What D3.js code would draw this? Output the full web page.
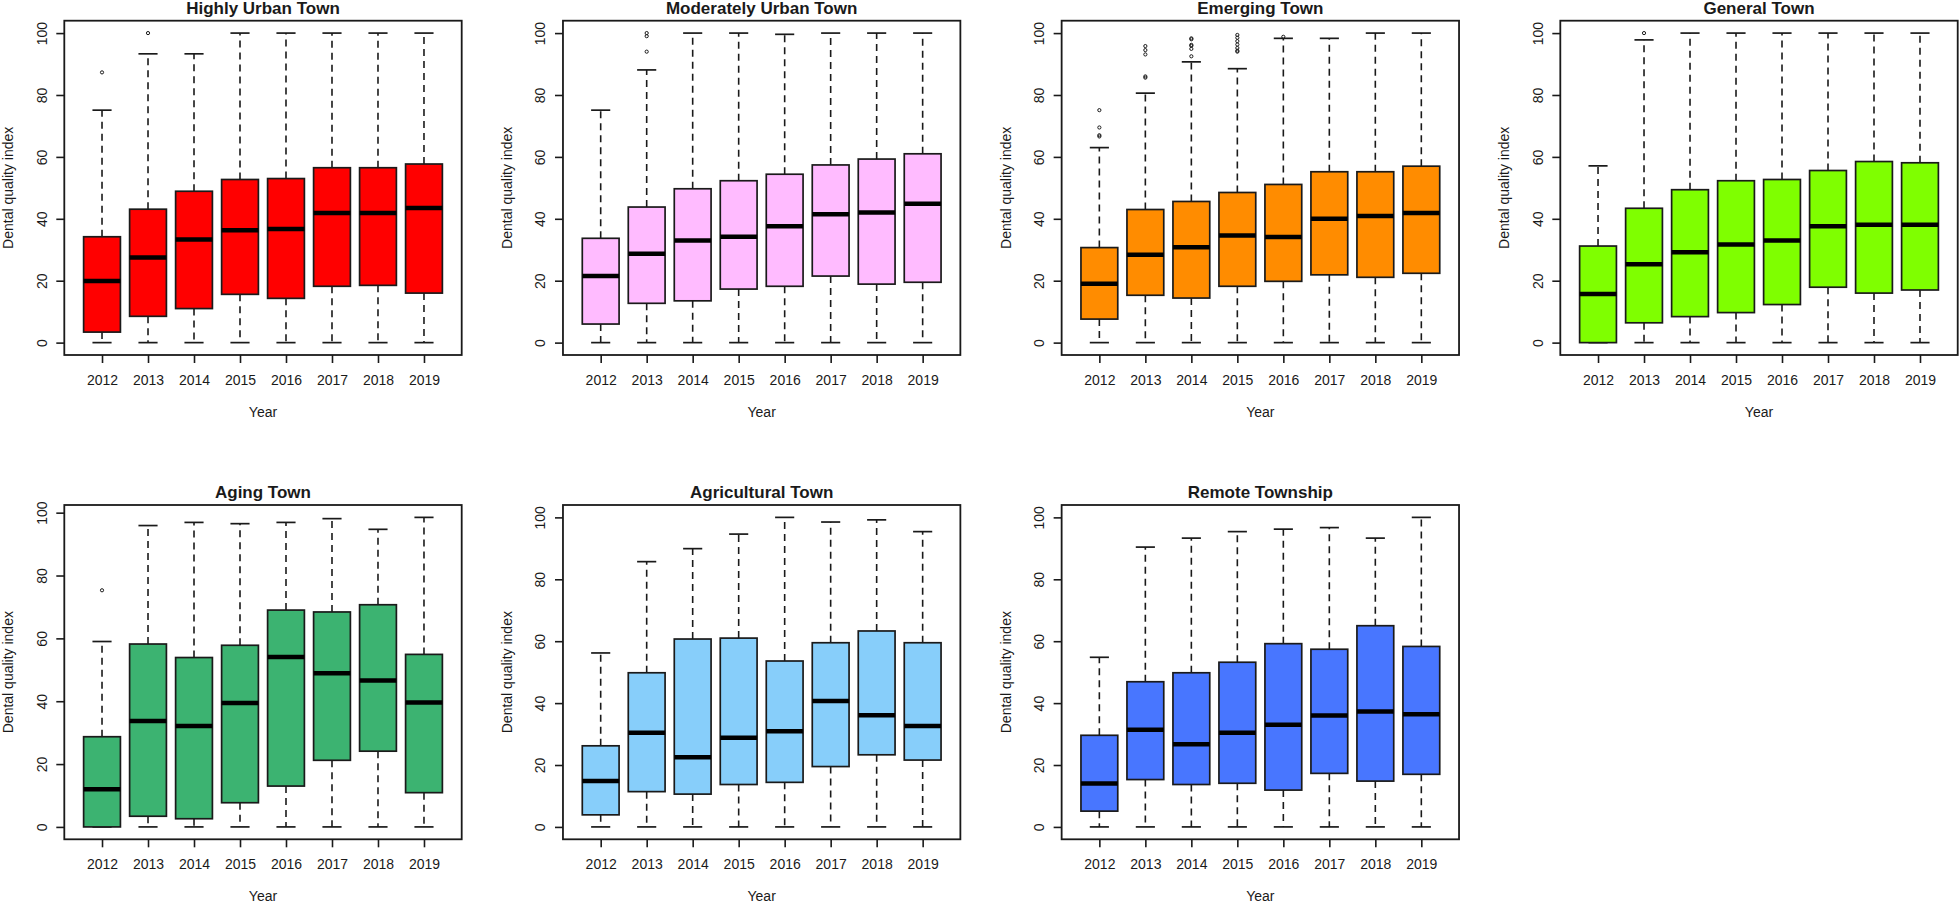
<!DOCTYPE html>
<html>
<head>
<meta charset="utf-8">
<script src="https://cdn.jsdelivr.net/npm/d3@7"></script>
<style>
  html, body { margin: 0; padding: 0; background: #ffffff; }
  svg { display: block; }
  text { font-family: "Liberation Sans", Arial, sans-serif; fill: #1a1a1a; }
</style>
</head>
<body>
<svg id="chart" width="1960" height="904"></svg>
<script>
// ---------------- DATA ----------------
const years = ["2012", "2013", "2014", "2015", "2016", "2017", "2018", "2019"];
const yTicks = [0, 20, 40, 60, 80, 100];
const xLabel = "Year";
const yLabel = "Dental quality index";

const panelTitles = ["Highly Urban Town", "Moderately Urban Town", "Emerging Town", "General Town",
                     "Aging Town", "Agricultural Town", "Remote Township"];
const panelColors = ["#FF0000", "#FFBBFF", "#FF8C00", "#7FFF00", "#3CB371", "#87CEFA", "#4876FF"];

// each row: [lower whisker, Q1, median, Q3, upper whisker], one per year
const highlyUrbanStats = [
  [0, 3.4, 19.9, 34.2, 75.1], [0, 8.5, 27.5, 43.1, 93.3], [0, 11.0, 33.3, 48.9, 93.3], [0, 15.6, 36.3, 52.7, 100],
  [0, 14.3, 36.7, 53.0, 100], [0, 18.2, 41.9, 56.5, 100], [0, 18.5, 41.9, 56.5, 100], [0, 16.0, 43.5, 57.7, 100]];
const highlyUrbanOutliers = [[87.3], [100], [], [], [], [], [], []];

const moderatelyUrbanStats = [
  [0, 6.0, 21.5, 33.7, 75.1], [0, 12.7, 28.7, 43.8, 88.1], [0, 13.5, 33.0, 49.7, 100], [0, 17.3, 34.2, 52.3, 100],
  [0, 18.2, 37.6, 54.4, 99.6], [0, 21.5, 41.5, 57.4, 100], [0, 18.9, 42.0, 59.3, 100], [0, 19.5, 44.9, 61.0, 100]];
const moderatelyUrbanOutliers = [[], [94.0, 99.0, 100], [], [], [], [], [], []];

const emergingStats = [
  [0, 7.6, 19.0, 30.7, 63.0], [0, 15.3, 28.4, 43.0, 80.6], [0, 14.4, 30.8, 45.6, 90.7], [0, 18.2, 34.6, 48.5, 88.5],
  [0, 19.8, 34.1, 51.1, 98.3], [0, 21.9, 40.0, 55.2, 98.3], [0, 21.1, 40.9, 55.2, 100], [0, 22.4, 41.9, 57.0, 100]];
const emergingOutliers = [
  [66.6, 67.0, 69.5, 75.1], [85.6, 86.0, 93.1, 94.5, 95.8], [92.5, 94.9, 95.9, 96.2, 98.0, 98.3], [94.0, 94.3, 95.2, 96.3, 97.4, 98.5, 99.4],
  [98.8], [], [], []];

const generalStats = [
  [0, 0, 15.7, 31.2, 57.1], [0, 6.4, 25.3, 43.4, 97.8], [0, 8.4, 29.2, 49.4, 100], [0, 9.7, 31.7, 52.3, 100],
  [0, 12.3, 33.0, 52.7, 100], [0, 17.9, 37.6, 55.6, 100], [0, 16.0, 38.1, 58.5, 100], [0, 17.0, 38.1, 58.1, 100]];
const generalOutliers = [[], [100], [], [], [], [], [], []];

const agingStats = [
  [0, 0, 12.0, 28.7, 59.0], [0, 3.4, 33.7, 58.2, 95.9], [0, 2.6, 32.1, 53.9, 96.9], [0, 7.7, 39.4, 57.8, 96.5],
  [0, 13.0, 54.1, 69.0, 96.9], [0, 21.2, 48.9, 68.4, 98.1], [0, 24.1, 46.6, 70.7, 94.7], [0, 10.9, 39.6, 54.9, 98.5]];
const agingOutliers = [[75.3], [], [], [], [], [], [], []];

const agriculturalStats = [
  [0, 3.9, 14.8, 26.2, 56.2], [0, 11.4, 30.4, 49.8, 85.7], [0, 10.6, 22.5, 60.7, 89.9], [0, 13.7, 28.8, 61.0, 94.6],
  [0, 14.4, 30.9, 53.6, 100], [0, 19.5, 40.7, 59.5, 98.5], [0, 23.3, 36.1, 63.3, 99.2], [0, 21.6, 32.6, 59.5, 95.4]];
const agriculturalOutliers = [[], [], [], [], [], [], [], []];

const remoteStats = [
  [0, 5.1, 14.0, 29.6, 54.8], [0, 15.3, 31.4, 46.9, 90.4], [0, 13.7, 26.7, 49.8, 93.3], [0, 14.1, 30.4, 53.2, 95.4],
  [0, 11.9, 33.0, 59.2, 96.2], [0, 17.3, 36.0, 57.4, 96.7], [0, 14.8, 37.3, 65.0, 93.3], [0, 17.0, 36.4, 58.3, 100]];
const remoteOutliers = [[], [], [], [], [], [], [], []];

const panelStats = [highlyUrbanStats, moderatelyUrbanStats, emergingStats, generalStats,
                    agingStats, agriculturalStats, remoteStats];
const panelOutliers = [highlyUrbanOutliers, moderatelyUrbanOutliers, emergingOutliers, generalOutliers,
                       agingOutliers, agriculturalOutliers, remoteOutliers];

// ---------------- LAYOUT ----------------
const firstLeft = 64.3, stepX = 498.67, plotW = 397.4, plotH = 334.3;
const rowTops = [20.7, 505];

const svg = d3.select("#chart");

panelTitles.forEach((title, p) => {
  const row = Math.floor(p / 4), col = p % 4;
  const g = svg.append("g").attr("transform", `translate(${firstLeft + col * stepX},${rowTops[row]})`);
  const stats = panelStats[p], outs = panelOutliers[p];

  const allVals = stats.flat().concat(outs.flat());
  const lo = d3.min(allVals), hi = d3.max(allVals), pad = (hi - lo) * 0.04;
  const y = d3.scaleLinear().domain([lo - pad, hi + pad]).range([plotH, 0]);
  const x = d3.scaleLinear().domain([0.18, 8.82]).range([0, plotW]);
  const bw = x(1.4) - x(1.0);          // half of box width (0.8)
  const cw = bw * 0.52;                // half staple width

  const boxes = g.selectAll("g.box").data(stats).join("g").attr("class", "box")
    .attr("transform", (d, i) => `translate(${x(i + 1)},0)`);

  // whiskers (dashed)
  boxes.append("line").attr("x1", 0).attr("x2", 0)
    .attr("y1", d => y(d[3])).attr("y2", d => y(d[4]))
    .attr("stroke", "#1a1a1a").attr("stroke-width", 1.6).attr("stroke-dasharray", "7,5");
  boxes.append("line").attr("x1", 0).attr("x2", 0)
    .attr("y1", d => y(d[1])).attr("y2", d => y(d[0]))
    .attr("stroke", "#1a1a1a").attr("stroke-width", 1.6).attr("stroke-dasharray", "7,5");
  // staples
  boxes.append("line").attr("x1", -cw).attr("x2", cw)
    .attr("y1", d => y(d[4])).attr("y2", d => y(d[4]))
    .attr("stroke", "#1a1a1a").attr("stroke-width", 1.7);
  boxes.append("line").attr("x1", -cw).attr("x2", cw)
    .attr("y1", d => y(d[0])).attr("y2", d => y(d[0]))
    .attr("stroke", "#1a1a1a").attr("stroke-width", 1.7);
  // box
  boxes.append("rect").attr("x", -bw).attr("width", 2 * bw)
    .attr("y", d => y(d[3])).attr("height", d => Math.max(0, y(d[1]) - y(d[3])))
    .attr("fill", panelColors[p]).attr("stroke", "#1a1a1a").attr("stroke-width", 1.7);
  // median
  boxes.append("line").attr("x1", -bw).attr("x2", bw)
    .attr("y1", d => y(d[2])).attr("y2", d => y(d[2]))
    .attr("stroke", "#000").attr("stroke-width", 4.5);

  // outliers
  outs.forEach((vals, i) => {
    g.selectAll(null).data(vals).join("circle")
      .attr("cx", x(i + 1)).attr("cy", v => y(v)).attr("r", 1.6)
      .attr("fill", "none").attr("stroke", "#1a1a1a").attr("stroke-width", 1);
  });

  // frame
  g.append("rect").attr("x", 0).attr("y", 0).attr("width", plotW).attr("height", plotH)
    .attr("fill", "none").attr("stroke", "#1a1a1a").attr("stroke-width", 1.8);

  // y axis
  const ya = g.append("g").call(d3.axisLeft(y).tickValues(yTicks).tickSize(8).tickFormat(d3.format("d")));
  ya.select(".domain").remove();
  ya.selectAll(".tick line").attr("stroke", "#1a1a1a").attr("stroke-width", 1.6);
  ya.selectAll(".tick text")
    .attr("transform", "rotate(-90)")
    .attr("x", 0).attr("y", -17.6).attr("dy", null)
    .attr("text-anchor", "middle")
    .style("font-size", "14px").style("font-family", "'Liberation Sans', Arial, sans-serif").attr("fill", "#1a1a1a");

  // x axis
  const xa = g.append("g").attr("transform", `translate(0,${plotH})`)
    .call(d3.axisBottom(x).tickValues(d3.range(1, years.length + 1)).tickSize(8).tickFormat(i => years[i - 1]));
  xa.select(".domain").remove();
  xa.selectAll(".tick line").attr("stroke", "#1a1a1a").attr("stroke-width", 1.6);
  xa.selectAll(".tick text")
    .attr("y", 30).attr("dy", null)
    .style("font-size", "14px").style("font-family", "'Liberation Sans', Arial, sans-serif").attr("fill", "#1a1a1a");

  // title
  g.append("text").attr("x", plotW / 2).attr("y", -6.7).attr("text-anchor", "middle")
    .style("font-size", "17px").style("font-weight", "bold").text(title);
  // axis labels
  g.append("text").attr("x", plotW / 2).attr("y", plotH + 62).attr("text-anchor", "middle")
    .style("font-size", "14px").text(xLabel);
  g.append("text").attr("transform", `translate(-51,${plotH / 2}) rotate(-90)`).attr("text-anchor", "middle")
    .style("font-size", "14px").text(yLabel);
});
</script>
</body>
</html>
